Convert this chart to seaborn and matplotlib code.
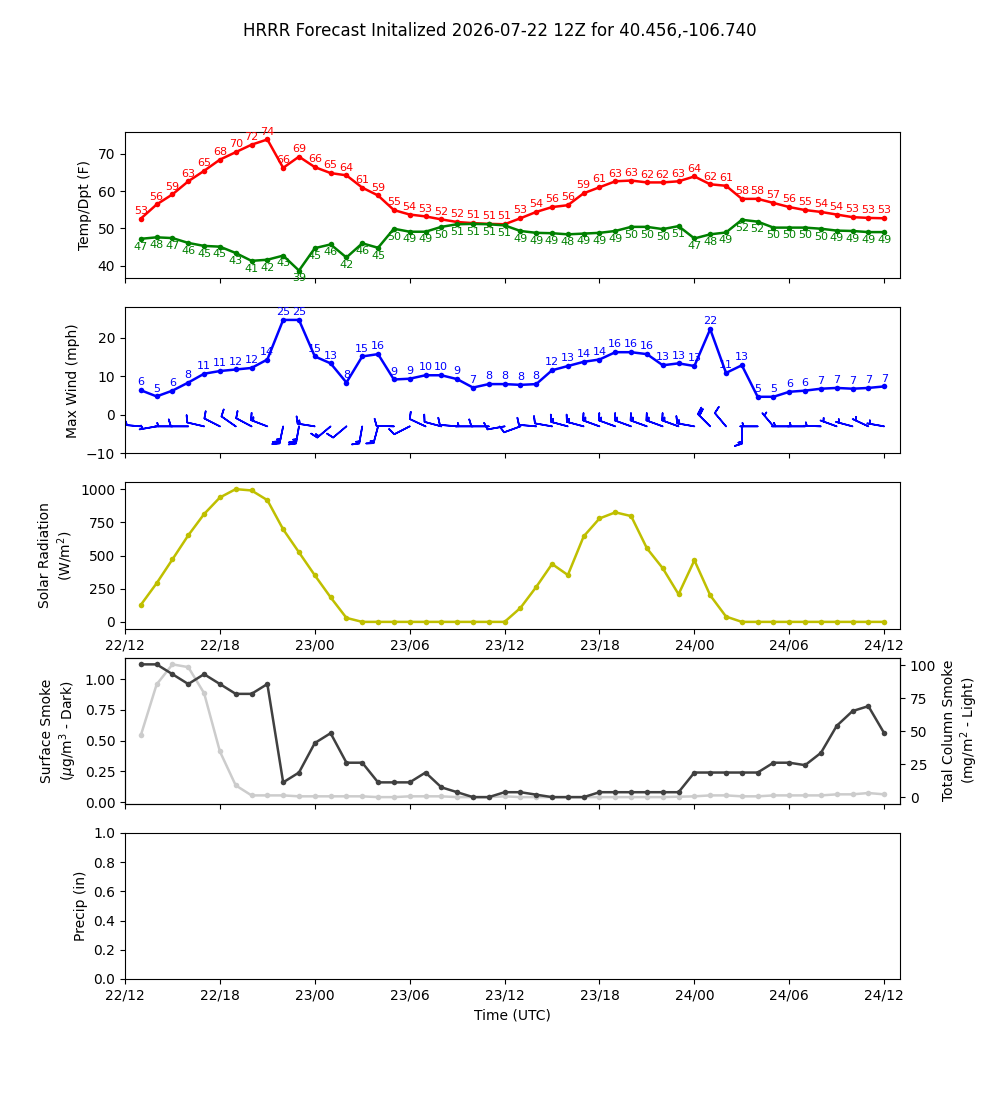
import numpy as np
import pandas as pd
import matplotlib
matplotlib.use("Agg")
import matplotlib.pyplot as plt
import matplotlib.dates as mdates
import seaborn as sns

# ------------------------
# Forecast data (hourly, 22/13 -> 24/12 UTC)
# ------------------------
init = pd.Timestamp("2026-07-22 12:00")
times = pd.date_range(init + pd.Timedelta(hours=1), periods=48, freq="h")

temp = [52.6, 56.4, 59.1, 62.6, 65.4, 68.4, 70.4, 72.4, 73.8, 66.2, 69.2, 66.4,
        64.8, 64.2, 60.9, 58.8, 54.9, 53.7, 53.2, 52.4, 51.7, 51.4, 51.2, 51.1,
        52.7, 54.4, 55.7, 56.2, 59.4, 61.0, 62.6, 62.8, 62.3, 62.3, 62.6, 63.9,
        61.8, 61.4, 57.9, 57.9, 56.8, 55.7, 54.9, 54.4, 53.7, 53.0, 52.8, 52.7]
dewp = [47.2, 47.6, 47.4, 46.1, 45.3, 45.1, 43.4, 41.3, 41.6, 42.7, 38.7, 44.7,
        45.7, 42.2, 46.0, 44.8, 49.9, 49.1, 49.1, 50.4, 51.1, 51.2, 51.1, 50.8,
        49.3, 48.8, 48.7, 48.4, 48.6, 48.8, 49.3, 50.4, 50.4, 49.8, 50.6, 47.3,
        48.4, 48.9, 52.3, 51.8, 50.2, 50.2, 50.2, 49.9, 49.4, 49.3, 49.0, 49.0]
wind = [6.4, 4.8, 6.3, 8.4, 10.7, 11.4, 11.8, 12.2, 14.4, 24.7, 24.7, 15.2,
        13.4, 8.4, 15.2, 15.8, 9.2, 9.4, 10.3, 10.3, 9.3, 7.1, 8.0, 8.0,
        7.8, 8.0, 11.6, 12.7, 13.8, 14.4, 16.3, 16.3, 15.8, 12.9, 13.4, 12.7,
        22.3, 10.9, 12.9, 4.7, 4.7, 6.0, 6.3, 6.8, 7.0, 6.8, 7.0, 7.4]
wind_dir = [275, 260, 270, 270, 283, 297, 305, 298, 291, 192, 190, 279,
            230, 230, 190, 195, 272, 243, 295, 285, 275, 270, 270, 260,
            250, 275, 280, 285, 285, 290, 290, 290, 290, 290, 290, 280,
            315, 320, 180, 270, 320, 270, 270, 272, 290, 285, 295, 280]
solar = [128, 291, 471, 652, 812, 937, 1000, 990, 917, 697, 524, 351,
         185, 30, 0, 0, 0, 0, 0, 0, 0, 0, 0, 0,
         105, 263, 436, 353, 644, 779, 825, 797, 554, 404, 208, 464,
         200, 40, 0, 0, 0, 0, 0, 0, 0, 0, 0, 0]
smoke_sfc = [1.12, 1.12, 1.04, 0.96, 1.04, 0.96, 0.88, 0.88, 0.96, 0.16, 0.24, 0.48,
             0.56, 0.32, 0.32, 0.16, 0.16, 0.16, 0.24, 0.12, 0.08, 0.04, 0.04, 0.08,
             0.08, 0.06, 0.04, 0.04, 0.04, 0.08, 0.08, 0.08, 0.08, 0.08, 0.08, 0.24,
             0.24, 0.24, 0.24, 0.24, 0.32, 0.32, 0.30, 0.40, 0.62, 0.74, 0.78, 0.56]
smoke_col = [47.0, 85.6, 100.8, 98.7, 79.0, 34.8, 9.1, 1.5, 1.5, 1.5, 0.8, 0.8,
             0.8, 0.8, 0.8, 0.2, 0.2, 0.8, 0.8, 0.8, 0.2, 0.2, 0.2, 0.8,
             0.2, 0.2, 0.2, 0.2, 0.2, 0.2, 0.2, 0.2, 0.2, 0.2, 0.5, 0.8,
             1.5, 1.5, 0.8, 0.8, 1.5, 1.5, 1.5, 1.5, 2.3, 2.3, 3.3, 2.3]

# ------------------------
# Plot
# ------------------------
fig, axes = plt.subplots(5, 1, figsize=(10, 11), sharex=True)
ax_t, ax_w, ax_s, ax_sm, ax_p = axes

line_kw = dict(marker="o", markersize=4, markeredgewidth=0, linewidth=1.8)


def label_points(ax, vals, color, dy, va):
    for t, v in zip(times, vals):
        ax.annotate(f"{round(v)}", (t, v), xytext=(0, dy), textcoords="offset points",
                    ha="center", va=va, color=color, fontsize=8)


# Temp / dewpoint
sns.lineplot(x=times, y=temp, ax=ax_t, color="r", **line_kw)
sns.lineplot(x=times, y=dewp, ax=ax_t, color="g", **line_kw)
label_points(ax_t, temp, "r", 2, "bottom")
label_points(ax_t, dewp, "g", -2, "top")
ax_t.set_ylim(min(dewp) - 2, max(temp) + 2)
ax_t.set_ylabel("Temp/Dpt (F)")

# Wind (line + barbs)
sns.lineplot(x=times, y=wind, ax=ax_w, color="b", **line_kw)
label_points(ax_w, wind, "b", 2, "bottom")
spd = np.array(wind)
rad = np.deg2rad(wind_dir)
u = -spd * np.sin(rad)
v = -spd * np.cos(rad)
ax_w.barbs(mdates.date2num(times), np.full(len(times), -3.0), u, v,
           length=5, color="b", linewidth=1.2)
ax_w.set_ylim(-10, 28)
ax_w.set_ylabel("Max Wind (mph)")

# Solar radiation
sns.lineplot(x=times, y=solar, ax=ax_s, color="y", **line_kw)
ax_s.set_ylabel("Solar Radiation\n(W/m$^2$)")
ax_s.xaxis.set_tick_params(labelbottom=True)

# Smoke
sns.lineplot(x=times, y=smoke_sfc, ax=ax_sm, color="#404040", **line_kw)
ax_sm.set_ylabel("Surface Smoke\n($\\mu$g/m$^3$ - Dark)")
ax_sm2 = ax_sm.twinx()
sns.lineplot(x=times, y=smoke_col, ax=ax_sm2, color="#cccccc", **line_kw)
ax_sm2.set_ylabel("Total Column Smoke\n(mg/m$^2$ - Light)")
ax_sm.set_zorder(ax_sm2.get_zorder() + 1)
ax_sm.patch.set_visible(False)

# Precip (no data)
ax_p.set_ylim(0, 1)
ax_p.set_ylabel("Precip (in)")
ax_p.set_xlabel("Time (UTC)")

ax_p.set_xlim(init, init + pd.Timedelta(hours=49))
ax_p.xaxis.set_major_locator(mdates.HourLocator(byhour=[0, 6, 12, 18]))
ax_p.xaxis.set_major_formatter(mdates.DateFormatter("%d/%H"))

fig.suptitle("HRRR Forecast Initalized 2026-07-22 12Z for 40.456,-106.740")
fig.savefig("out.png", dpi=100)
